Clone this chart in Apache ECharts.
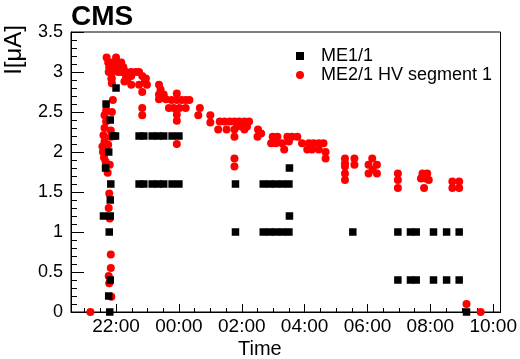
<!DOCTYPE html>
<html>
<head>
<meta charset="utf-8">
<script src="https://cdn.jsdelivr.net/npm/echarts@6/dist/echarts.min.js"></script>
<style>html,body{margin:0;padding:0;background:#fff;}#c{width:520px;height:359px;}</style>
</head>
<body>
<div id="c"></div>
<script>
// ---- data (time of day, current in uA) ----
var xTickLabels = ["22:00","00:00","02:00","04:00","06:00","08:00","10:00"];
var yTickLabels = ["0","0.5","1","1.5","2","2.5","3","3.5"];

var me11Time = [
 "21:48","21:46","21:49","21:47","21:36","21:49","21:49","21:50","21:40","21:46","21:54","21:59","21:49","21:41","22:00",
 "22:44","22:53","23:09","23:20","23:31","23:47","00:00",
 "22:44","22:53","23:09","23:20","23:31","23:47","00:00",
 "01:48","01:48",
 "02:41","02:53","03:05","03:18","03:30",
 "02:41","02:53","03:05","03:18","03:30",
 "03:31","03:31",
 "05:32",
 "06:58","07:22","07:33","08:06","08:31","08:55",
 "06:58","07:22","07:33","08:06","08:31","08:55",
 "09:09"];
var me11Val = [
 0,0.2,0.4,1.0,1.2,1.2,1.4,1.6,1.8,2.0,2.2,2.2,2.4,2.6,2.8,
 2.2,2.2,2.2,2.2,2.2,2.2,2.2,
 1.6,1.6,1.6,1.6,1.6,1.6,1.6,
 1.6,1.0,
 1.6,1.6,1.6,1.6,1.6,
 1.0,1.0,1.0,1.0,1.0,
 1.8,1.2,
 1.0,
 1.0,1.0,1.0,1.0,1.0,1.0,
 0.4,0.4,0.4,0.4,0.4,0.4,
 0];

var me21Time = [
 "21:11",
 "21:51","21:47","21:46","21:50","21:50","21:48","21:46","21:47","21:44","21:48","21:40","21:37","21:35","21:34","21:45",
 "21:38","21:36","21:50","21:38","21:50","21:41","21:38","21:41","21:52","21:54","21:52","21:52",
 "21:42","22:00",
 "21:45","21:51","21:57","22:04","22:10",
 "21:47","21:57","22:02","22:08","22:14",
 "21:46","21:53","22:04","22:10","22:19","22:29","22:38","22:44",
 "22:19","22:29","22:50",
 "21:51","22:22","22:57",
 "22:16","22:55",
 "22:29","22:44","22:59",
 "22:50","22:50","22:50",
 "23:22","23:25","23:22","23:31","23:22","23:35",
 "23:56","23:46","23:56","00:05","00:13","00:20","23:41","23:50","00:01","00:13","23:56","23:56","23:56",
 "00:40","00:37","01:00","01:00",
 "01:18","01:27","01:37","01:46","01:55","02:05","02:14",
 "01:51","02:00","02:10",
 "01:15","01:31","01:46","02:05",
 "01:46","01:46","01:46",
 "02:31","02:37","02:30",
 "02:59","03:08","02:56","03:05","03:17",
 "03:27","03:36","03:46","03:30","03:21","03:55",
 "04:08","04:17","04:27","04:36","04:05","04:14","04:27","04:40","04:40",
 "05:17","05:17","05:17","05:17","05:17",
 "05:35","05:35",
 "06:09","06:02","06:18","06:02","06:18","06:10",
 "06:58","06:58","06:58",
 "07:45","07:54","07:42","07:57","07:48","07:51",
 "08:42","08:55","08:42","08:55",
 "09:09","09:36"];
var me21Val = [
 0,
 0.19,0.36,0.45,0.55,0.72,1.17,1.3,1.48,1.74,1.84,1.88,1.93,2.0,2.07,2.09,
 2.13,2.21,2.19,2.3,2.27,2.38,2.46,2.52,2.5,2.65,2.86,2.92,
 3.18,3.18,
 3.12,3.12,3.12,3.12,3.12,
 3.06,3.06,3.06,3.06,3.06,
 3.0,3.0,3.0,3.0,3.0,3.0,3.0,3.0,
 2.95,2.95,2.95,
 2.92,2.92,2.92,
 2.88,2.88,
 2.84,2.84,2.84,
 2.75,2.55,2.46,
 2.84,2.78,2.72,2.72,2.66,2.66,
 2.73,2.65,2.65,2.65,2.65,2.65,2.55,2.55,2.55,2.55,2.47,2.39,2.1,
 2.55,2.46,2.46,2.37,
 2.38,2.38,2.38,2.38,2.38,2.38,2.38,
 2.32,2.32,2.32,
 2.28,2.28,2.28,2.28,
 2.19,1.92,1.82,
 2.28,2.23,2.19,
 2.19,2.19,2.11,2.11,2.11,
 2.19,2.19,2.19,2.13,2.03,2.11,
 2.11,2.11,2.11,2.11,2.03,2.03,2.03,2.0,1.92,
 1.92,1.86,1.82,1.73,1.65,
 1.92,1.84,
 1.92,1.84,1.84,1.73,1.73,1.78,
 1.73,1.65,1.55,
 1.73,1.73,1.67,1.65,1.55,1.67,
 1.63,1.63,1.55,1.55,
 0.1,0];

// ---- helpers ----
function toHours(s){
  var p = s.split(":"); var h = +p[0] + (+p[1])/60;
  if (h < 12) h += 24;
  return h;
}
function pairs(t, v){ return t.map(function(s,i){ return [toHours(s), v[i]]; }); }

var XMIN = 20.567, XMAX = 34.232;
var majorX = xTickLabels.map(toHours);
var minorX = [];
for (var k = 41; k <= 68; k++) minorX.push(k/2);

var FONT = "Liberation Sans, Arial, Helvetica, sans-serif";
var chart = echarts.init(document.getElementById('c'), null, {renderer:'canvas'});
chart.setOption({
  animation:false,
  backgroundColor:'#fff',
  textStyle:{fontFamily:FONT},
  grid:{left:71, top:32, width:436, height:280, show:true, borderColor:'#000', borderWidth:1, backgroundColor:'transparent'},
  xAxis:[{
    type:'value', min:XMIN, max:XMAX, position:'bottom',
    axisLine:{show:true, onZero:false, lineStyle:{color:'#000', width:1}},
    axisTick:{show:true, inside:true, length:8, customValues:majorX, lineStyle:{color:'#000'}},
    axisLabel:{show:true, customValues:majorX, margin:5, fontSize:19, color:'#000', fontFamily:FONT,
      formatter:function(v){ var i = majorX.indexOf(v); return i >= 0 ? xTickLabels[i] : ''; }},
    splitLine:{show:false}
  },{
    type:'value', min:XMIN, max:XMAX, position:'bottom',
    axisLine:{show:false},
    axisTick:{show:true, inside:true, length:4, customValues:minorX, lineStyle:{color:'#000'}},
    axisLabel:{show:false},
    splitLine:{show:false}
  }],
  yAxis:{
    type:'value', min:0, max:3.5, interval:0.5,
    axisLine:{show:true, onZero:false, lineStyle:{color:'#000', width:1}},
    axisTick:{show:true, inside:true, length:13, lineStyle:{color:'#000'}},
    minorTick:{show:true, splitNumber:5, length:6, lineStyle:{color:'#000'}},
    axisLabel:{margin:8, fontSize:18, color:'#000', fontFamily:FONT,
      formatter:function(v){ return yTickLabels[Math.round(v/0.5)]; }},
    splitLine:{show:false}
  },
  legend:{
    orient:'vertical', left:291, top:42, itemWidth:8, itemHeight:8, itemGap:1,
    data:['ME1/1','ME2/1 HV segment 1'],
    textStyle:{fontSize:18, color:'#000', fontFamily:FONT, padding:[0,0,0,12]},
    selectedMode:false
  },
  graphic:[
    {type:'text', left:71, top:3, style:{text:'CMS', font:'bold 28px ' + FONT, fill:'#000'}},
    {type:'text', x:238, y:349, style:{text:'Time', font:'20px ' + FONT, fill:'#000', verticalAlign:'middle', align:'left'}},
    {type:'text', x:14, y:25, rotation:Math.PI/2, style:{text:'I[\u03bcA]', font:'24px ' + FONT, fill:'#000', align:'right', verticalAlign:'middle'}}
  ],
  series:[
    {name:'ME2/1 HV segment 1', type:'scatter', xAxisIndex:0, symbol:'circle', symbolSize:8,
      itemStyle:{color:'#ff0000', opacity:1}, data:pairs(me21Time, me21Val), z:2},
    {name:'ME1/1', type:'scatter', xAxisIndex:0, symbol:'rect', symbolSize:7.5,
      itemStyle:{color:'#000000', opacity:1}, data:pairs(me11Time, me11Val), z:3}
  ]
});
</script>
</body>
</html>
